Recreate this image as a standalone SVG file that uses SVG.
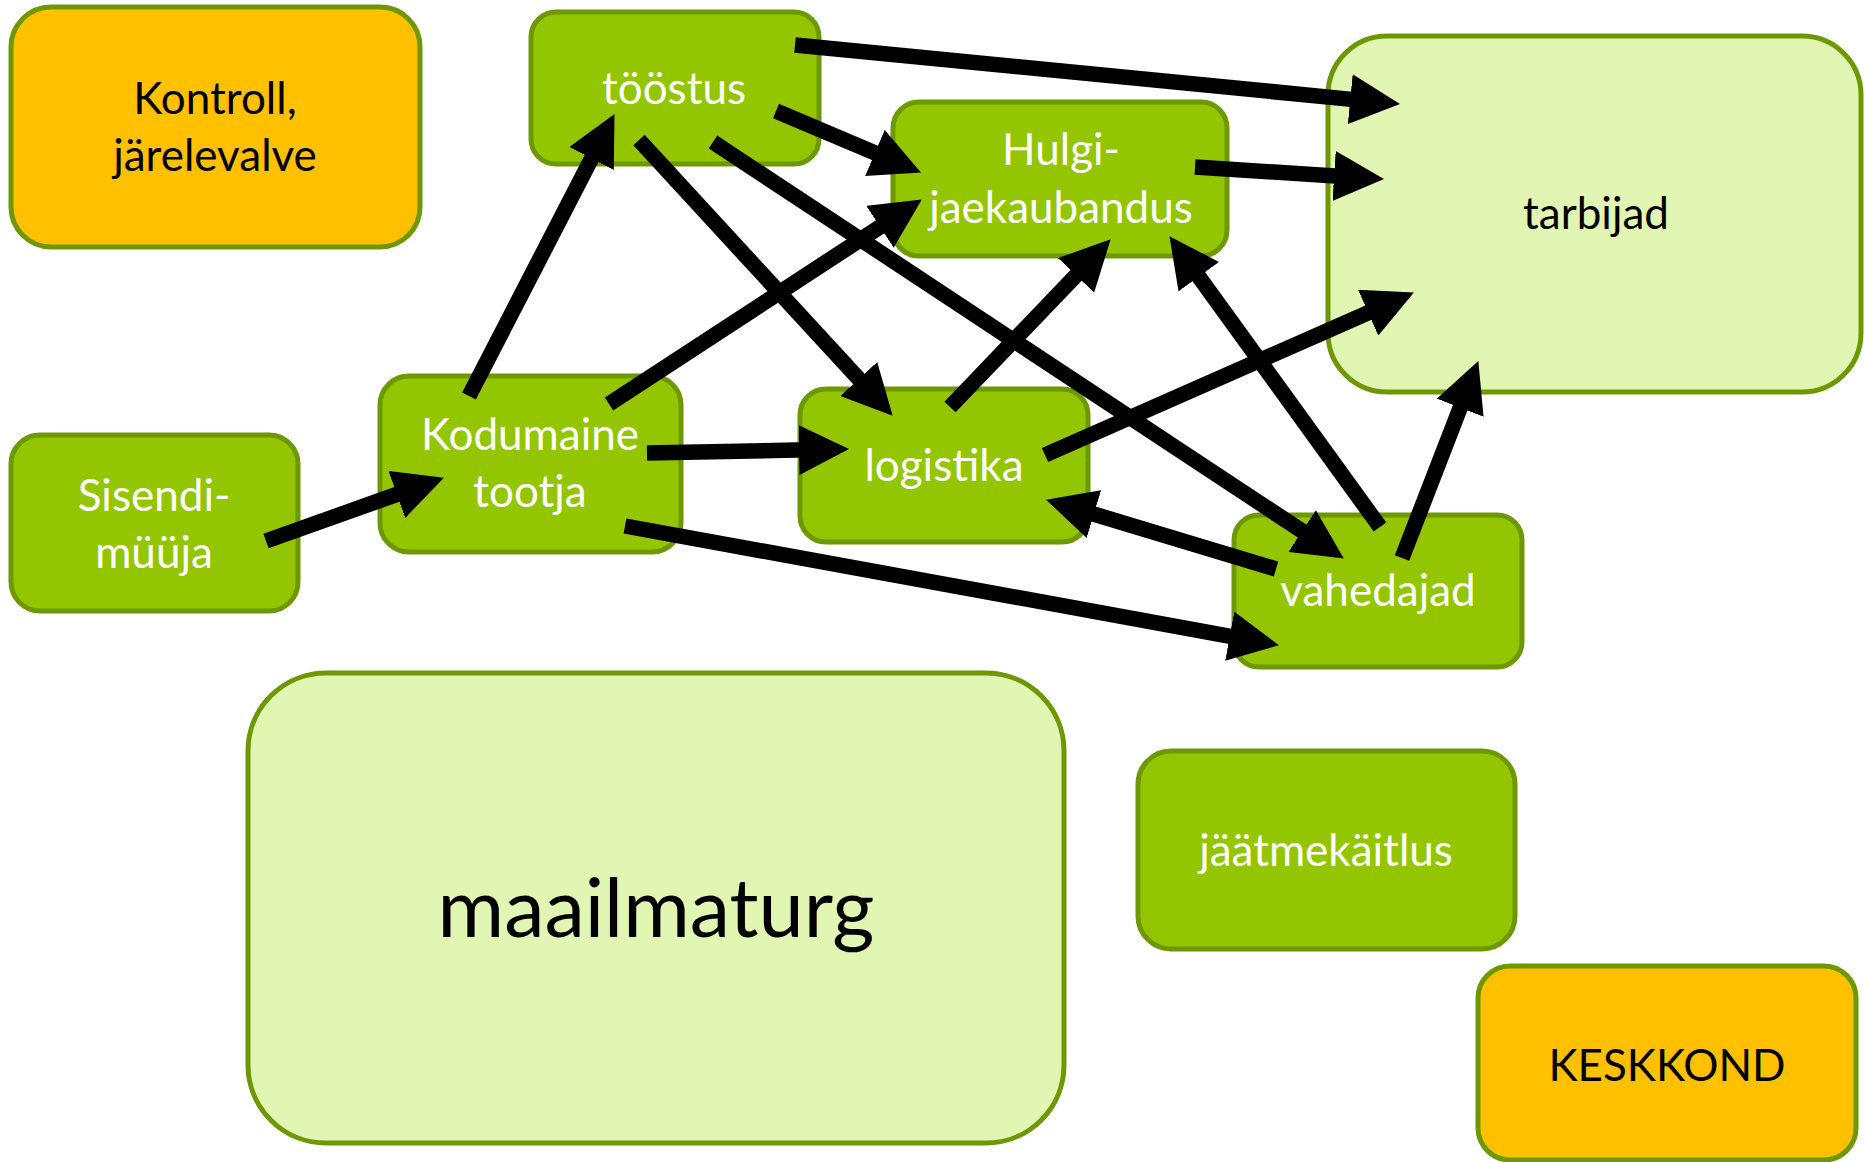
<svg xmlns="http://www.w3.org/2000/svg" width="1864" height="1162" viewBox="0 0 1864 1162">
<style>
.n{stroke:#6E9800;stroke-width:5}
.dg{fill:#94C600}
.lg{fill:#E0F6B2}
.or{fill:#FFC000}
text{font-family:Lato,"Open Sans","Liberation Sans",sans-serif;font-size:44px;text-anchor:middle}
.w{fill:#FFFFFF}
.b{fill:#000000}
.c line{stroke:#000;stroke-width:15.5;marker-end:url(#ah)}
</style>
<defs>
<marker id="ah" viewBox="0 0 50 50" refX="9" refY="25" markerWidth="50" markerHeight="50" markerUnits="userSpaceOnUse" orient="auto">
<path d="M0,0 L50,25 L0,50 z" fill="#000"/>
</marker>
</defs>
<rect width="1864" height="1162" fill="#FFFFFF"/>
<g id="kontroll"><rect class="n or" x="11" y="7" width="409" height="240" rx="40"/><text class="b" x="215" y="114">Kontroll,</text><text class="b" x="215" y="171">järelevalve</text></g>
<g id="toostus"><rect class="n dg" x="531" y="12" width="288" height="152" rx="25"/><text class="w" x="674" y="104">tööstus</text></g>
<g id="hulgi"><rect class="n dg" x="893" y="102" width="334" height="154" rx="26"/><text class="w" x="1061" y="165">Hulgi-</text><text class="w" x="1061" y="223">jaekaubandus</text></g>
<g id="tarbijad"><rect class="n lg" x="1328" y="36" width="533" height="356" rx="59"/><text class="b" x="1596" y="229">tarbijad</text></g>
<g id="sisendi"><rect class="n dg" x="11" y="435" width="287" height="176" rx="29"/><text class="w" x="154" y="511">Sisendi-</text><text class="w" x="154" y="568">müüja</text></g>
<g id="kodumaine"><rect class="n dg" x="380" y="376" width="301" height="176" rx="29"/><text class="w" x="530" y="450">Kodumaine</text><text class="w" x="530" y="507">tootja</text></g>
<g id="logistika"><rect class="n dg" x="800" y="389" width="288" height="153" rx="26"/><text class="w" x="944" y="481">logistika</text></g>
<g id="vahedajad"><rect class="n dg" x="1234" y="515" width="288" height="152" rx="25"/><text class="w" x="1378" y="606">vahedajad</text></g>
<g id="maailmaturg"><rect class="n lg" x="248" y="673" width="816" height="470" rx="78"/><text class="b" x="656" y="937" style="font-size:81px">maailmaturg</text></g>
<g id="jaatmekaitlus"><rect class="n dg" x="1138" y="751" width="377" height="198" rx="33"/><text class="w" x="1326" y="866">jäätmekäitlus</text></g>
<g id="keskkond"><rect class="n or" x="1478" y="966" width="378" height="194" rx="32"/><text class="b" x="1667" y="1081">KESKKOND</text></g>
<g id="connectors" class="c">
<line x1="795" y1="45" x2="1359.2" y2="100.1"/>
<line x1="776" y1="111" x2="883.2" y2="156.4"/>
<line x1="639" y1="140" x2="864.9" y2="385.6"/>
<line x1="713" y1="142" x2="1309.6" y2="536"/>
<line x1="469" y1="396" x2="595.7" y2="150.5"/>
<line x1="609" y1="404" x2="887.5" y2="221.9"/>
<line x1="647" y1="453" x2="808" y2="449.8"/>
<line x1="625" y1="526" x2="1238.6" y2="637.8"/>
<line x1="266" y1="541" x2="405.3" y2="491.4"/>
<line x1="1195" y1="167" x2="1343.1" y2="176.5"/>
<line x1="950" y1="407" x2="1082.3" y2="268.9"/>
<line x1="1045" y1="455" x2="1376.4" y2="309.1"/>
<line x1="1380" y1="527" x2="1193.5" y2="269.4"/>
<line x1="1402" y1="558" x2="1463.5" y2="399.3"/>
<line x1="1276" y1="569" x2="1085.3" y2="511.5"/>
</g>
</svg>
